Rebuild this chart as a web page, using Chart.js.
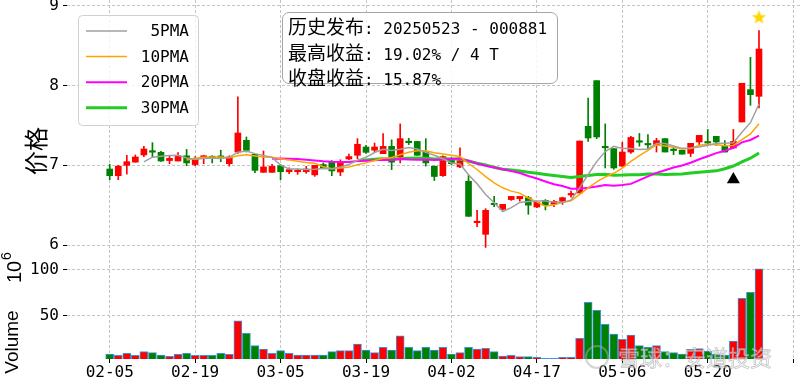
<!DOCTYPE html>
<html lang="zh">
<head>
<meta charset="utf-8">
<title>000881 K线</title>
<script src="https://cdn.jsdelivr.net/npm/chart.js@4.4.1/dist/chart.umd.min.js"></script>
<style>
  body { margin: 0; background: #fff; }
  #chart-wrap { position: relative; width: 800px; height: 385px; overflow: hidden; }
  #signal-box {
    position: absolute; left: 282px; top: 12px; width: 276px; height: 72px;
    box-sizing: border-box; border: 1.5px solid #a6a6a6; border-radius: 7px;
    background: rgba(255, 255, 255, 0.85); padding: 2px 0 0 5px;
    font-family: "DejaVu Sans Mono", monospace; font-size: 16px; line-height: 22.5px;
    color: #000; white-space: nowrap;
  }
  #signal-box .cn { font-family: "Noto Sans CJK SC"; font-size: 19px; }
  #watermark {
    position: absolute; left: 585px; top: 341px; white-space: nowrap;
    font-family: "Noto Sans CJK SC"; font-size: 22px; line-height: 30px;
    color: rgba(255, 255, 255, 0.55); -webkit-text-stroke: 0.8px rgba(150, 150, 150, 0.55);
  }
  #watermark .logo {
    display: inline-block; width: 20px; height: 20px; margin-right: 9px; vertical-align: -3px;
    border: 2px solid rgba(170, 170, 170, 0.5); border-radius: 50%;
  }
</style>
</head>
<body>
<div id="chart-wrap">
  <canvas id="kline-chart" width="800" height="385"></canvas>
  <div id="signal-box">
    <div><span class="cn">历史发布</span>: 20250523 - 000881</div>
    <div><span class="cn">最高收益</span>: 19.02% / 4 T</div>
    <div><span class="cn">收盘收益</span>: 15.87%</div>
  </div>
  <div id="watermark"><span class="logo"></span>雪球：安道投资</div>
</div>
<script>
// trading days shown on the x axis
var dates = [
    '02-05', '02-06', '02-07', '02-10', '02-11', '02-12', '02-13', '02-14', '02-17', '02-18',
    '02-19', '02-20', '02-21', '02-24', '02-25', '02-26', '02-27', '02-28', '03-03', '03-04',
    '03-05', '03-06', '03-07', '03-10', '03-11', '03-12', '03-13', '03-14', '03-17', '03-18',
    '03-19', '03-20', '03-21', '03-24', '03-25', '03-26', '03-27', '03-28', '03-31', '04-01',
    '04-02', '04-03', '04-07', '04-08', '04-09', '04-10', '04-11', '04-14', '04-15', '04-16',
    '04-17', '04-18', '04-21', '04-22', '04-23', '04-24', '04-25', '04-28', '04-29', '04-30',
    '05-06', '05-07', '05-08', '05-09', '05-12', '05-13', '05-14', '05-15', '05-16', '05-19',
    '05-20', '05-21', '05-22', '05-23', '05-26', '05-27', '05-28'
];

// daily prices
var openP = [
    6.954, 6.870, 7.000, 7.040, 7.130, 7.170, 7.163, 7.060, 7.054, 7.120,
    7.010, 7.096, 7.110, 7.113, 7.020, 7.167, 7.314, 7.138, 6.912, 6.912,
    6.996, 6.920, 6.920, 6.920, 6.880, 7.010, 7.040, 6.916, 7.080, 7.126,
    7.230, 7.190, 7.146, 7.238, 7.105, 7.290, 7.300, 7.163, 6.990, 6.870,
    7.084, 6.980, 6.800, 6.280, 6.134, 6.510, 6.448, 6.570, 6.580, 6.594,
    6.477, 6.560, 6.510, 6.548, 6.628, 6.653, 7.490, 8.063, 7.230, 7.210,
    6.990, 7.167, 7.300, 7.260, 7.250, 7.335, 7.190, 7.190, 7.150, 7.293,
    7.285, 7.364, 7.238, 7.218, 7.544, 7.950, 7.866
];
var highP = [
    7.013, 7.000, 7.125, 7.130, 7.240, 7.285, 7.176, 7.125, 7.160, 7.200,
    7.110, 7.125, 7.120, 7.190, 7.120, 7.860, 7.356, 7.138, 7.180, 7.013,
    7.013, 6.970, 6.954, 6.987, 7.000, 7.030, 7.060, 7.070, 7.140, 7.335,
    7.250, 7.280, 7.400, 7.320, 7.520, 7.340, 7.300, 7.335, 6.990, 7.120,
    7.100, 7.220, 6.875, 6.435, 6.456, 6.610, 6.510, 6.610, 6.610, 6.610,
    6.545, 6.570, 6.560, 6.600, 6.678, 7.305, 7.845, 8.063, 7.520, 7.210,
    7.290, 7.365, 7.400, 7.385, 7.340, 7.335, 7.230, 7.190, 7.276, 7.376,
    7.450, 7.364, 7.310, 7.450, 8.030, 8.356, 8.690
];
var lowP = [
    6.820, 6.820, 6.890, 7.040, 7.110, 7.100, 7.050, 7.020, 7.054, 6.996,
    6.996, 7.020, 7.030, 7.046, 6.990, 7.150, 7.167, 6.908, 6.912, 6.912,
    6.820, 6.895, 6.887, 6.900, 6.862, 6.960, 6.870, 6.870, 7.070, 7.084,
    7.150, 7.170, 7.146, 6.946, 7.030, 7.260, 7.126, 6.990, 6.810, 6.860,
    7.010, 6.970, 6.360, 6.230, 5.970, 6.480, 6.440, 6.560, 6.550, 6.385,
    6.470, 6.440, 6.480, 6.510, 6.600, 6.653, 7.300, 7.335, 6.967, 6.950,
    6.980, 7.150, 7.240, 7.210, 7.167, 7.167, 7.135, 7.140, 7.110, 7.260,
    7.250, 7.250, 7.167, 7.210, 7.544, 7.753, 7.720
];
var closeP = [
    6.870, 6.990, 7.046, 7.105, 7.205, 7.165, 7.054, 7.088, 7.120, 7.030,
    7.080, 7.120, 7.096, 7.100, 7.105, 7.406, 7.188, 6.937, 6.980, 6.987,
    6.920, 6.946, 6.937, 6.954, 7.000, 6.970, 6.930, 7.040, 7.110, 7.264,
    7.163, 7.230, 7.238, 7.040, 7.335, 7.284, 7.126, 7.030, 6.860, 7.110,
    7.020, 7.060, 6.360, 6.290, 6.435, 6.506, 6.510, 6.610, 6.610, 6.500,
    6.535, 6.500, 6.548, 6.594, 6.636, 7.305, 7.343, 7.356, 7.220, 6.967,
    7.167, 7.350, 7.290, 7.256, 7.310, 7.167, 7.185, 7.140, 7.276, 7.376,
    7.280, 7.293, 7.167, 7.300, 8.030, 7.887, 8.460
];

// volume, in millions
var volumes = [
    8.7, 7.2, 9.4, 7.2, 11.2, 10.1, 7.6, 6.2, 8.3, 9.4,
    7.2, 7.2, 7.2, 9.4, 8.3, 44.6, 31.2, 17.8, 14.1, 9.4,
    12.3, 9.4, 7.6, 7.6, 7.6, 7.6, 11.2, 12.3, 12.3, 19.6,
    13.0, 10.1, 15.9, 13.0, 28.3, 15.9, 12.3, 15.9, 13.0, 15.9,
    8.7, 10.1, 15.9, 14.1, 14.9, 11.2, 6.5, 7.2, 5.8, 5.8,
    5.1, 4.0, 4.0, 5.1, 5.1, 25.7, 64.9, 56.2, 40.9, 30.4,
    24.6, 29.3, 17.8, 15.9, 17.8, 11.2, 10.1, 8.7, 13.8, 14.5,
    12.0, 8.7, 7.6, 22.8, 69.2, 75.7, 101.1
];

// moving averages as plotted (blank until enough days)
function lead(n, vals) {
    var out = [];
    for (var i = 0; i < n; i++) out.push(null);
    return out.concat(vals);
}
var ma5 = lead(4, [
    7.043, 7.102, 7.115, 7.123, 7.126, 7.091, 7.074, 7.088, 7.089, 7.085,
    7.100, 7.165, 7.179, 7.147, 7.123, 7.100, 7.002, 6.954, 6.954, 6.949,
    6.951, 6.961, 6.958, 6.979, 7.010, 7.063, 7.101, 7.161, 7.201, 7.187,
    7.201, 7.225, 7.205, 7.163, 7.127, 7.082, 7.029, 7.016, 6.882, 6.768,
    6.633, 6.530, 6.420, 6.470, 6.534, 6.547, 6.553, 6.551, 6.539, 6.535,
    6.563, 6.717, 6.885, 7.047, 7.172, 7.238, 7.211, 7.212, 7.199, 7.206,
    7.275, 7.275, 7.243, 7.213, 7.217, 7.230, 7.252, 7.273, 7.278, 7.283,
    7.414, 7.535, 7.769
]);
var ma10 = lead(9, [
    7.067, 7.088, 7.101, 7.106, 7.106, 7.096, 7.120, 7.133, 7.118, 7.104,
    7.100, 7.084, 7.067, 7.051, 7.036, 7.026, 6.982, 6.956, 6.966, 6.979,
    7.007, 7.031, 7.060, 7.090, 7.099, 7.132, 7.163, 7.183, 7.182, 7.157,
    7.142, 7.127, 7.110, 7.023, 6.948, 6.858, 6.780, 6.718, 6.676, 6.651,
    6.590, 6.542, 6.486, 6.504, 6.535, 6.555, 6.635, 6.718, 6.793, 6.854,
    6.900, 6.964, 7.049, 7.123, 7.189, 7.256, 7.243, 7.227, 7.206, 7.211,
    7.252, 7.264, 7.258, 7.246, 7.250, 7.322, 7.394, 7.521
]);
var ma20 = lead(19, [
    7.084, 7.086, 7.084, 7.078, 7.071, 7.061, 7.051, 7.045, 7.042, 7.042,
    7.054, 7.058, 7.063, 7.070, 7.067, 7.079, 7.073, 7.070, 7.074, 7.068,
    7.074, 7.079, 7.085, 7.056, 7.023, 6.995, 6.972, 6.951, 6.929, 6.904,
    6.866, 6.834, 6.798, 6.763, 6.741, 6.706, 6.707, 6.718, 6.734, 6.752,
    6.745, 6.753, 6.767, 6.814, 6.862, 6.906, 6.939, 6.973, 6.999, 7.033,
    7.076, 7.114, 7.153, 7.184, 7.219, 7.289, 7.318, 7.374
]);
var ma30 = lead(29, [
    7.058, 7.068, 7.076, 7.082, 7.080, 7.084, 7.088, 7.091, 7.089, 7.080,
    7.083, 7.081, 7.079, 7.054, 7.027, 7.005, 6.975, 6.952, 6.942, 6.929,
    6.913, 6.900, 6.885, 6.872, 6.860, 6.848, 6.859, 6.873, 6.884, 6.887,
    6.877, 6.878, 6.882, 6.883, 6.890, 6.890, 6.886, 6.888, 6.892, 6.905,
    6.914, 6.923, 6.931, 6.958, 6.991, 7.044, 7.090, 7.155
]);

var xTicks = [0, 10, 20, 30, 40, 50, 60, 70, 80];
var priceTicks = [6, 7, 8, 9];
var volumeTicks = [50, 100];

// signal markers: publish day (triangle) and best day (star)
var publishIdx = [73], publishMark = [6.822];
var peakIdx = [76], peakMark = [8.864];

var upColor = '#ff0000';
var downColor = '#008000';
var candleColors = closeP.map(function (c, i) { return c >= openP[i] ? upColor : downColor; });

function points(arr) {
    return arr.map(function (v, i) { return { x: i, y: v }; });
}

// filled star used as point image
function starImage(size, color) {
    var cv = document.createElement('canvas');
    cv.width = size;
    cv.height = size;
    var g = cv.getContext('2d');
    var cx = size / 2, cy = size / 2 + size * 0.05, R = size / 2, r = R * 0.42;
    g.beginPath();
    for (var k = 0; k < 10; k++) {
        var rad = k % 2 ? r : R;
        var a = -Math.PI / 2 + k * Math.PI / 5;
        g.lineTo(cx + rad * Math.cos(a), cy + rad * Math.sin(a));
    }
    g.closePath();
    g.fillStyle = color;
    g.fill();
    return cv;
}

function rotatedText(c, text, x, y, font) {
    c.save();
    c.translate(x, y);
    c.rotate(-Math.PI / 2);
    c.font = font;
    c.fillStyle = '#000';
    c.textAlign = 'center';
    c.textBaseline = 'middle';
    c.fillText(text, 0, 0);
    c.restore();
}

// axis titles and legend box drawn over the panels
var panelText = {
    id: 'panelText',
    afterDraw: function (chart) {
        var c = chart.ctx;
        rotatedText(c, '价格', 36, 151, '24px "Noto Sans CJK SC"');
        rotatedText(c, 'Volume', 13, 342, '19px "Liberation Sans"');
        rotatedText(c, '10', 15, 272, '20px "Liberation Sans"');
        rotatedText(c, '6', 7, 256, '14px "Liberation Sans"');

        // legend
        var rows = chart.data.datasets.filter(function (d) { return d.type === 'line' && d.showLine !== false; });
        var bx = 78.5, by = 15.5, bw = 120, bh = 110, br = 4;
        c.save();
        c.beginPath();
        c.moveTo(bx + br, by);
        c.arcTo(bx + bw, by, bx + bw, by + bh, br);
        c.arcTo(bx + bw, by + bh, bx, by + bh, br);
        c.arcTo(bx, by + bh, bx, by, br);
        c.arcTo(bx, by, bx + bw, by, br);
        c.closePath();
        c.fillStyle = 'rgba(255,255,255,0.8)';
        c.fill();
        c.strokeStyle = '#d0d0d0';
        c.lineWidth = 1;
        c.stroke();
        c.font = '16px "DejaVu Sans Mono"';
        c.textAlign = 'right';
        c.textBaseline = 'middle';
        rows.forEach(function (d, k) {
            var y = 31 + k * 25.6;
            c.beginPath();
            c.moveTo(86, y);
            c.lineTo(127, y);
            c.strokeStyle = d.borderColor;
            c.lineWidth = d.borderWidth;
            c.stroke();
            c.fillStyle = '#000';
            c.fillText(d.label, 189, y + 1);
        });
        c.restore();
    }
};

var gridStyle = { color: '#c4c4c4', tickColor: '#000', tickLength: 4, drawTicks: true, offset: false };
var dashBorder = { display: false, dash: [3, 2] };
var tickFont = { family: 'DejaVu Sans Mono', size: 16 };

function zeroPad(scale) {
    scale.paddingTop = 0;
    scale.paddingBottom = 0;
    scale.paddingLeft = 0;
    scale.paddingRight = 0;
}

var klineCtx = document.getElementById('kline-chart').getContext('2d');
var klineChart = new Chart(klineCtx, {
    type: 'bar',
    data: {
        datasets: [
            {
                type: 'line', label: '5PMA', data: points(ma5), yAxisID: 'y',
                borderColor: '#a0a0a0', borderWidth: 1.5, pointRadius: 0, order: 0
            },
            {
                type: 'line', label: '10PMA', data: points(ma10), yAxisID: 'y',
                borderColor: '#ffa500', borderWidth: 1.5, pointRadius: 0, order: 0
            },
            {
                type: 'line', label: '20PMA', data: points(ma20), yAxisID: 'y',
                borderColor: '#ff00ff', borderWidth: 2, pointRadius: 0, order: 0
            },
            {
                type: 'line', label: '30PMA', data: points(ma30), yAxisID: 'y',
                borderColor: '#22cc22', borderWidth: 3, pointRadius: 0, order: 0
            },
            {
                type: 'bar', label: 'wick', yAxisID: 'y', grouped: false, order: 3,
                data: dates.map(function (d, i) { return { x: i, y: [lowP[i], highP[i]] }; }),
                backgroundColor: candleColors, barThickness: 1
            },
            {
                type: 'bar', label: 'body', yAxisID: 'y', grouped: false, order: 2,
                data: dates.map(function (d, i) { return { x: i, y: [openP[i], closeP[i]] }; }),
                backgroundColor: candleColors, barThickness: 6, minBarLength: 1.5
            },
            {
                type: 'bar', label: 'Volume', yAxisID: 'yv', grouped: false, order: 2, clip: 0,
                data: points(volumes),
                backgroundColor: candleColors, borderColor: '#3c93dc', borderWidth: 1,
                barThickness: 8
            },
            {
                type: 'line', label: 'publish', showLine: false, yAxisID: 'y', order: 0,
                data: publishIdx.map(function (v, k) { return { x: v, y: publishMark[k] }; }),
                pointStyle: 'triangle', pointRadius: 7.5, pointBackgroundColor: '#000',
                pointBorderColor: '#000', pointBorderWidth: 0
            },
            {
                type: 'line', label: 'peak', showLine: false, yAxisID: 'y', order: 0,
                data: peakIdx.map(function (v, k) { return { x: v, y: peakMark[k] }; }),
                pointStyle: starImage(15, '#ffd700'), pointRadius: 8
            }
        ]
    },
    options: {
        responsive: false,
        animation: false,
        layout: { padding: 0, autoPadding: false },
        plugins: { legend: { display: false }, tooltip: { enabled: false } },
        scales: {
            x: {
                type: 'linear', position: 'bottom', min: -5, max: 80.8, offset: false,
                grid: gridStyle, border: dashBorder,
                afterBuildTicks: function (s) { s.ticks = xTicks.map(function (v) { return { value: v }; }); },
                ticks: {
                    font: tickFont, color: '#000', padding: 0, maxRotation: 0, autoSkip: false,
                    callback: function (v) { return dates[v] || ''; }
                },
                afterFit: function (s) { s.height = 26; zeroPad(s); }
            },
            // volume panel listed first so the price panel stacks on top
            yv: {
                type: 'linear', position: 'left', stack: 'panels', stackWeight: 101,
                min: 3.26, max: 113,
                grid: gridStyle, border: dashBorder,
                afterBuildTicks: function (s) { s.ticks = volumeTicks.map(function (v) { return { value: v }; }); },
                ticks: { font: tickFont, color: '#000', padding: 4 },
                afterFit: function (s) { s.width = 67; zeroPad(s); }
            },
            y: {
                type: 'linear', position: 'left', stack: 'panels', stackWeight: 258,
                min: 5.837, max: 9.075,
                grid: gridStyle, border: dashBorder,
                afterBuildTicks: function (s) { s.ticks = priceTicks.map(function (v) { return { value: v }; }); },
                ticks: { font: tickFont, color: '#000', padding: 4 },
                afterFit: function (s) { s.width = 67; zeroPad(s); }
            }
        }
    },
    plugins: [panelText]
});
</script>
</body>
</html>
